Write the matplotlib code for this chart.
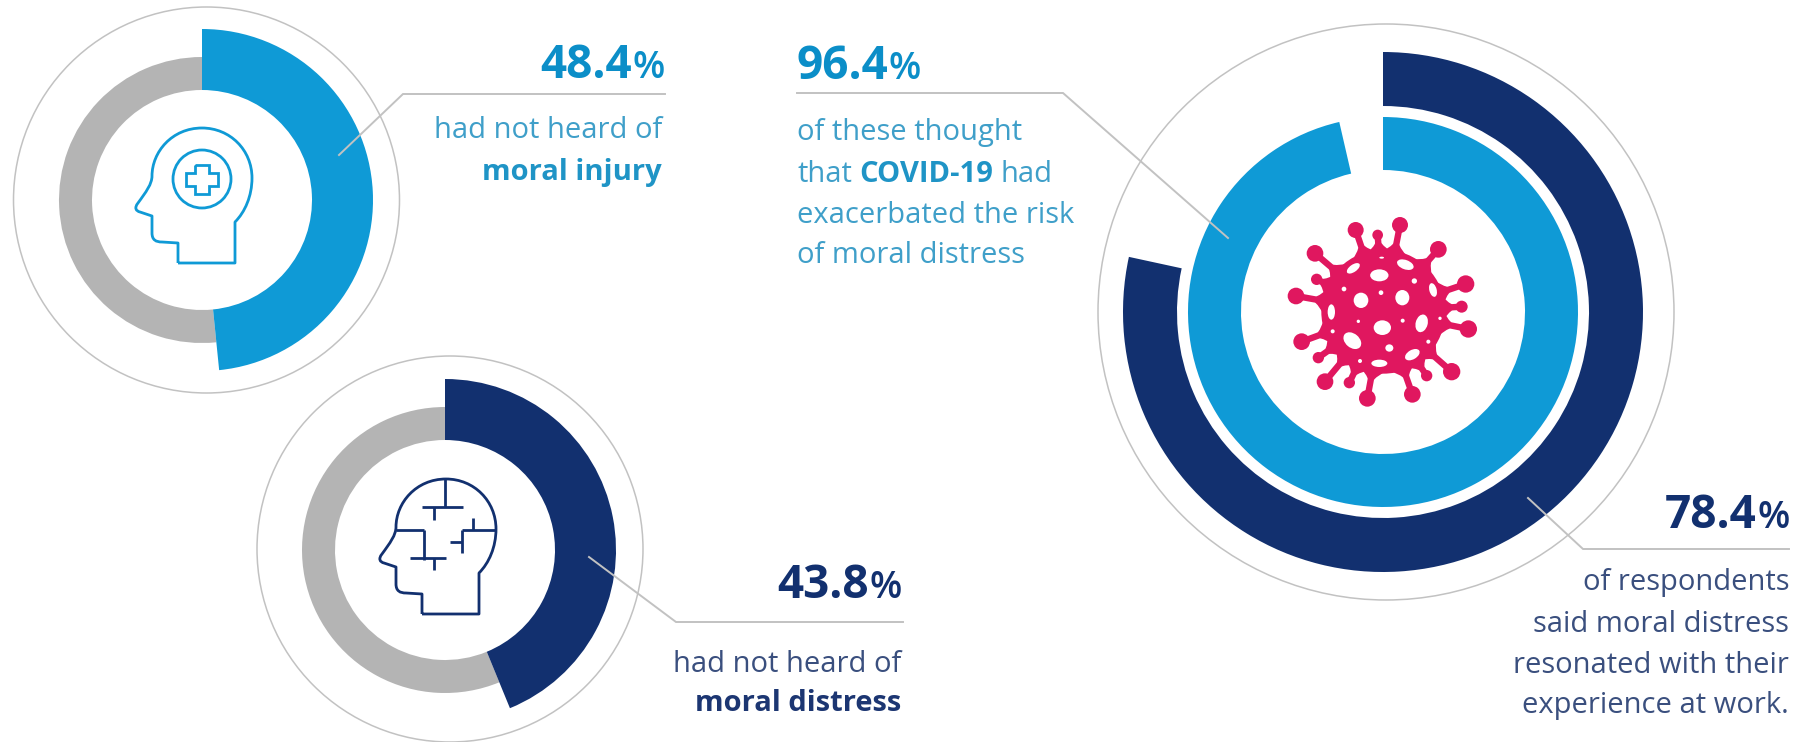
import matplotlib
matplotlib.use("Agg")
import matplotlib.pyplot as plt
from matplotlib.patches import Circle, Ellipse, PathPatch
from matplotlib.path import Path
import numpy as np

plt.rcParams["font.family"] = ["Open Sans", "DejaVu Sans"]

# values, in percent
INJURY_VALUE = 48.4
DISTRESS_VALUE = 43.8
RESONATED_VALUE = 78.4
COVID_VALUE = 96.4

INJURY_LABEL = "48.4"
DISTRESS_LABEL = "43.8"
RESONATED_LABEL = "78.4"
COVID_LABEL = "96.4"

BLUE = "#0f9ad6"
BLUE_TEXT = "#0b8ec8"
BLUE_BODY = "#3f9fc9"
BLUE_BOLD = "#1f94c6"
NAVY = "#12306f"
NAVY_BODY = "#3a4f7e"
NAVY_BOLD = "#1c3672"
GREY = "#b4b4b4"
LINE = "#c2c2c2"
PINK = "#e0175f"

BODY_SIZE = 21

fig = plt.figure(figsize=(18.01, 7.42), dpi=100, facecolor="white")
ax = fig.add_axes([0, 0, 1, 1])


def ring(center, value, radius, width, color, start=0):
    # y axis is flipped, so counterclock=True runs clockwise on screen
    ax.pie([value / 100], normalize=False, center=center, radius=radius,
           startangle=start * 3.6 - 90, counterclock=True, frame=True,
           colors=[color], wedgeprops=dict(width=width, linewidth=0))


def halo(center, radius):
    ax.add_patch(Circle(center, radius, fill=False, ec=LINE, lw=1.1))


def leader(xs, ys):
    ax.plot(xs, ys, color=LINE, lw=1.4, solid_joinstyle="miter", zorder=6)


def big_number(x, y, number, color, align):
    renderer = fig.canvas.get_renderer()
    num = ax.text(x, y, number, fontsize=33, fontweight="bold", color=color,
                  ha="left", va="baseline")
    pct = ax.text(x, y, "%", fontsize=27, fontweight="semibold", color=color,
                  ha="left", va="baseline")
    w_num = num.get_window_extent(renderer).width
    w_pct = pct.get_window_extent(renderer).width
    left = x if align == "left" else x - w_num - w_pct
    num.set_x(left)
    pct.set_x(left + w_num + 1)


def mixed_line(x, y, parts, color, bold_color, align):
    renderer = fig.canvas.get_renderer()
    items = []
    for part, weight in parts:
        t = ax.text(x, y, part, fontsize=BODY_SIZE, fontweight=weight,
                    color=bold_color if weight == "bold" else color,
                    ha="left", va="baseline")
        items.append(t)
    widths = [t.get_window_extent(renderer).width for t in items]
    space = BODY_SIZE * 100 / 72 * 0.26
    total = sum(widths) + space * (len(items) - 1)
    cur = x if align == "left" else x - total
    for t, w in zip(items, widths):
        t.set_x(cur)
        cur += w + space


def head(dx, dy, color):
    # outline drawn at the position of the first icon, then shifted
    steps = [(Path.MOVETO, [(178, 263)]), (Path.LINETO, [(235, 263)]),
             (Path.LINETO, [(235, 222)]),
             (Path.CURVE4, [(245, 212), (252, 196), (252, 178)]),
             (Path.CURVE4, [(252, 150), (230, 128), (202, 128)]),
             (Path.CURVE4, [(172, 128), (152, 152), (152, 176)]),
             (Path.CURVE4, [(152, 184), (146, 192), (138, 203)]),
             (Path.CURVE4, [(134, 208), (136, 211), (140, 212)]),
             (Path.LINETO, [(152, 216)]), (Path.LINETO, [(152, 233)]),
             (Path.CURVE4, [(152, 240), (156, 242), (162, 242)]),
             (Path.LINETO, [(178, 243)]), (Path.LINETO, [(178, 263)])]
    verts, codes = [], []
    for code, pts in steps:
        for p in pts:
            verts.append((p[0] + dx, p[1] + dy))
            codes.append(code)
    ax.add_patch(PathPatch(Path(verts, codes), fill=False, ec=color, lw=2,
                           joinstyle="round"))


def head_one():
    head(0, 0, BLUE)
    ax.add_patch(Circle((202, 179), 29, fill=False, ec=BLUE, lw=2))
    cross = [(195, 165), (209, 165), (209, 173), (218, 173), (218, 186),
             (209, 186), (209, 194), (195, 194), (195, 186), (186, 186),
             (186, 173), (195, 173), (195, 165)]
    ax.add_patch(PathPatch(Path(cross), fill=False, ec=BLUE, lw=2))


def head_two():
    head(244, 351, NAVY)
    bits = [((445, 445), (478, 507)), ((422, 463), (507, 507)),
            ((434, 434), (507, 520)), ((396, 424), (530, 530)),
            ((424, 424), (530, 560)), ((410, 446), (558, 558)),
            ((434, 434), (558, 570)), ((462, 496), (530, 530)),
            ((462, 462), (530, 553)), ((450, 462), (542, 542)),
            ((473, 473), (518, 530))]
    for xs, ys in bits:
        ax.plot(xs, ys, color=NAVY, lw=2, solid_capstyle="butt")


def virus():
    def to_px(x, y):
        return 1260 + x / 3, 200 + y / 3

    cx, cy = to_px(370, 335)
    ax.add_patch(Circle((cx, cy), 62, fc=PINK, ec="none", zorder=3))
    spikes = [(287, 90, 24), (420, 75, 24), (353, 105, 16), (535, 148, 25),
              (165, 160, 25), (170, 238, 17), (108, 288, 25), (617, 252, 26),
              (605, 320, 18), (625, 387, 26), (125, 425, 25), (175, 473, 17),
              (195, 545, 25), (268, 548, 17), (322, 595, 25), (457, 583, 25),
              (500, 527, 17), (575, 515, 26)]
    for x, y, r in spikes:
        px, py = to_px(x, y)
        ax.add_patch(Circle((px, py), r / 3, fc=PINK, ec="none", zorder=3))
        dx, dy = px - cx, py - cy
        n = np.hypot(dx, dy)
        dx, dy = dx / n, dy / n
        ux, uy = -dy, dx
        bx, by = cx + dx * 56, cy + dy * 56
        # flared stem, wide where it leaves the body
        verts = [(bx + ux * 16, by + uy * 16),
                 (bx + dx * 10 + ux * 3.6, by + dy * 10 + uy * 3.6),
                 (bx + dx * 13 + ux * 3.2, by + dy * 13 + uy * 3.2),
                 (px + ux * 3.2, py + uy * 3.2),
                 (px - ux * 3.2, py - uy * 3.2),
                 (bx + dx * 13 - ux * 3.2, by + dy * 13 - uy * 3.2),
                 (bx + dx * 10 - ux * 3.6, by + dy * 10 - uy * 3.6),
                 (bx - ux * 16, by - uy * 16),
                 (bx + ux * 16, by + uy * 16)]
        codes = [Path.MOVETO, Path.CURVE3, Path.CURVE3, Path.LINETO, Path.LINETO,
                 Path.LINETO, Path.CURVE3, Path.CURVE3, Path.CLOSEPOLY]
        ax.add_patch(PathPatch(Path(verts, codes), fc=PINK, ec="none", zorder=3))
    holes = [(358, 226, 55, 36, 0), (280, 205, 45, 22, -35), (436, 194, 52, 28, 20),
             (303, 301, 44, 46, 0), (427, 293, 42, 46, 0), (519, 270, 22, 42, -15),
             (214, 336, 22, 46, 0), (367, 383, 52, 44, 0), (485, 370, 36, 54, 15),
             (277, 422, 60, 42, 40), (388, 444, 24, 22, 0), (457, 464, 48, 28, -30),
             (358, 490, 48, 22, 0), (463, 243, 16, 16, 0), (252, 267, 14, 14, 0),
             (363, 278, 14, 14, 0), (428, 362, 12, 12, 0), (295, 364, 10, 10, 0),
             (218, 394, 12, 12, 0), (505, 425, 12, 12, 0), (300, 483, 12, 12, 0),
             (540, 355, 10, 10, 0), (365, 173, 14, 6, 0)]
    for x, y, w, h, a in holes:
        ax.add_patch(Ellipse(to_px(x, y), w / 3, h / 3, angle=a, fc="white",
                             ec="none", zorder=4))


# moral injury
ring((202, 200), 100 - INJURY_VALUE, 143, 33, GREY, start=INJURY_VALUE)
ring((202, 200), INJURY_VALUE, 171, 61, BLUE)
halo((206.5, 200), 193)
head_one()

# moral distress
ring((445, 550), 100 - DISTRESS_VALUE, 143, 33, GREY, start=DISTRESS_VALUE)
ring((445, 550), DISTRESS_VALUE, 171, 61, NAVY)
halo((450, 549), 193)
head_two()

# covid rings
ring((1383, 312), RESONATED_VALUE, 260, 54, NAVY)
ring((1383, 312), COVID_VALUE, 195, 53, BLUE)
halo((1386, 312), 288)
virus()

leader([339, 403, 665], [155, 94, 94])
leader([589, 676, 903], [557, 622, 622])
leader([797, 1063, 1228], [93, 93, 238])
leader([1528, 1583, 1789], [498, 549, 549])

ax.set_xlim(0, 1801)
ax.set_ylim(742, 0)
ax.set_aspect("auto")
ax.axis("off")
fig.canvas.draw()

big_number(664, 78, INJURY_LABEL, BLUE_TEXT, "right")
mixed_line(662, 138, [("had not heard of", "normal")], BLUE_BODY, BLUE_BOLD, "right")
mixed_line(662, 180, [("moral injury", "bold")], BLUE_BODY, BLUE_BOLD, "right")

big_number(901, 598, DISTRESS_LABEL, NAVY, "right")
mixed_line(901, 672, [("had not heard of", "normal")], NAVY_BODY, NAVY_BOLD, "right")
mixed_line(901, 711, [("moral distress", "bold")], NAVY_BODY, NAVY_BOLD, "right")

big_number(796, 79, COVID_LABEL, BLUE_TEXT, "left")
mixed_line(797, 140, [("of these thought", "normal")], BLUE_BODY, BLUE_BOLD, "left")
mixed_line(797, 182, [("that", "normal"), ("COVID-19", "bold"), ("had", "normal")],
           BLUE_BODY, BLUE_BOLD, "left")
mixed_line(797, 223, [("exacerbated the risk", "normal")], BLUE_BODY, BLUE_BOLD, "left")
mixed_line(797, 263, [("of moral distress", "normal")], BLUE_BODY, BLUE_BOLD, "left")

big_number(1789, 528, RESONATED_LABEL, NAVY, "right")
mixed_line(1789, 590, [("of respondents", "normal")], NAVY_BODY, NAVY_BOLD, "right")
mixed_line(1789, 632, [("said moral distress", "normal")], NAVY_BODY, NAVY_BOLD, "right")
mixed_line(1789, 673, [("resonated with their", "normal")], NAVY_BODY, NAVY_BOLD, "right")
mixed_line(1789, 713, [("experience at work.", "normal")], NAVY_BODY, NAVY_BOLD, "right")

fig.savefig("out.png", dpi=100, facecolor="white")
